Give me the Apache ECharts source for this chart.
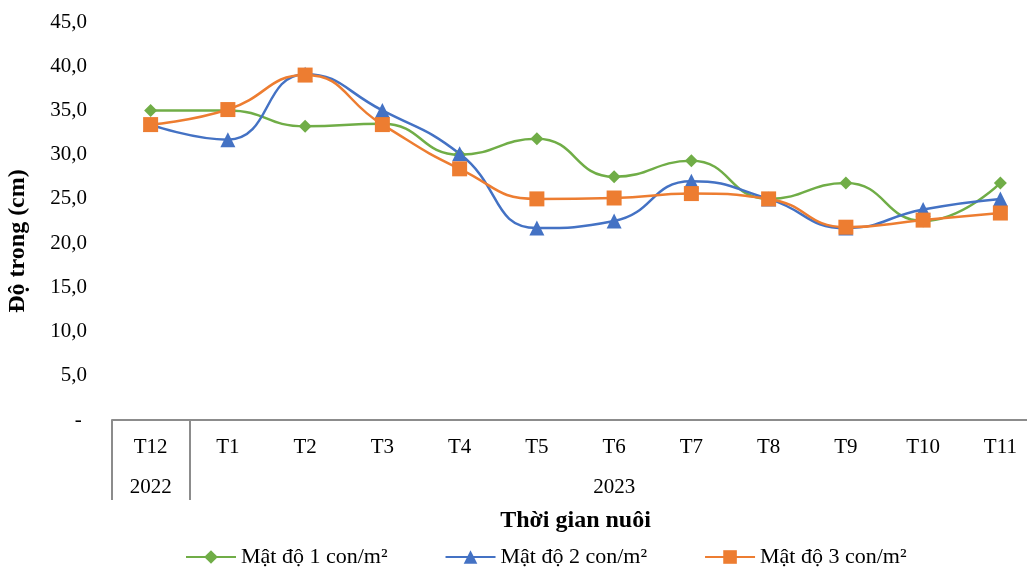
<!DOCTYPE html>
<html>
<head>
<meta charset="utf-8">
<script src="https://cdn.jsdelivr.net/npm/echarts@6/dist/echarts.min.js"></script>
<style>
  html, body { margin: 0; padding: 0; background: #ffffff; }
  #chart { width: 1027px; height: 568px; }
</style>
</head>
<body>
<div id="chart"></div>
<script>
// Month labels (first row) and year labels (second row) of the time axis
const months = ['T12', 'T1', 'T2', 'T3', 'T4', 'T5', 'T6', 'T7', 'T8', 'T9', 'T10', 'T11'];
const yearRow = ['2022', '', '', '', '', '', '2023', '', '', '', '', ''];

// Water transparency (cm) for each stocking density
const density1 = [35.0, 35.0, 33.2, 33.5, 30.0, 31.8, 27.5, 29.3, 25.0, 26.8, 22.5, 26.8];
const density2 = [33.4, 31.7, 39.1, 35.0, 30.1, 21.7, 22.5, 27.0, 25.0, 21.7, 23.8, 25.0];
const density3 = [33.4, 35.1, 39.0, 33.4, 28.4, 25.0, 25.1, 25.6, 25.0, 21.8, 22.6, 23.4];

const seriesNames = ['Mật độ 1 con/m²', 'Mật độ 2 con/m²', 'Mật độ 3 con/m²'];

const FONT = '"Liberation Serif", "Times New Roman", serif';
const AXIS_GRAY = '#8c8c8c';

const chart = echarts.init(document.getElementById('chart'));

function lineSeries(name, data, color, symbol, size) {
  return {
    name: name,
    type: 'line',
    data: data,
    smooth: 0.5,
    symbol: symbol,
    symbolSize: size,
    lineStyle: { color: color, width: 2.5 },
    itemStyle: { color: color },
    xAxisIndex: 0
  };
}

chart.setOption({
  animation: false,
  backgroundColor: '#ffffff',
  textStyle: { fontFamily: FONT, color: '#000' },
  grid: { left: 112, top: 22, width: 927, bottom: 148, containLabel: false, outerBoundsMode: 'none' },
  legend: {
    left: 180,
    top: 541,
    itemWidth: 50,
    itemHeight: 17,
    itemGap: 57,
    textStyle: { fontFamily: FONT, fontSize: 22, color: '#000' },
    data: seriesNames
  },
  xAxis: [
    {
      type: 'category',
      data: months,
      position: 'bottom',
      boundaryGap: true,
      axisLine: { show: true, lineStyle: { color: AXIS_GRAY, width: 2 } },
      axisTick: {
        show: true,
        interval: function (index) { return index <= 1; },
        length: 80,
        lineStyle: { color: AXIS_GRAY, width: 2 }
      },
      axisLabel: { interval: 0, margin: 17, fontFamily: FONT, fontSize: 21, color: '#000' },
      splitLine: { show: false },
      name: 'Thời gian nuôi',
      nameLocation: 'middle',
      nameGap: 89,
      nameTextStyle: { fontFamily: FONT, fontSize: 24, fontWeight: 'bold', color: '#000' }
    },
    {
      type: 'category',
      data: yearRow,
      position: 'bottom',
      offset: 40,
      boundaryGap: true,
      axisLine: { show: false },
      axisTick: { show: false },
      axisLabel: { interval: 0, margin: 17, fontFamily: FONT, fontSize: 21, color: '#000' },
      splitLine: { show: false }
    }
  ],
  yAxis: {
    type: 'value',
    min: 0,
    max: 45,
    interval: 5,
    axisLine: { show: false },
    axisTick: { show: false },
    splitLine: { show: false },
    axisLabel: {
      margin: 25,
      fontFamily: FONT,
      fontSize: 21,
      color: '#000',
      formatter: function (v) { return v === 0 ? '- ' : v.toFixed(1).replace('.', ','); }
    },
    name: 'Độ trong (cm)',
    nameLocation: 'middle',
    nameGap: 82,
    nameTextStyle: { fontFamily: FONT, fontSize: 24, fontWeight: 'bold', color: '#000', padding: [0, 40, 0, 0] }
  },
  series: [
    lineSeries(seriesNames[0], density1, '#70AD47', 'diamond', 13),
    lineSeries(seriesNames[1], density2, '#4472C4', 'triangle', 15),
    lineSeries(seriesNames[2], density3, '#ED7D31', 'rect', 15)
  ]
});
</script>
</body>
</html>
